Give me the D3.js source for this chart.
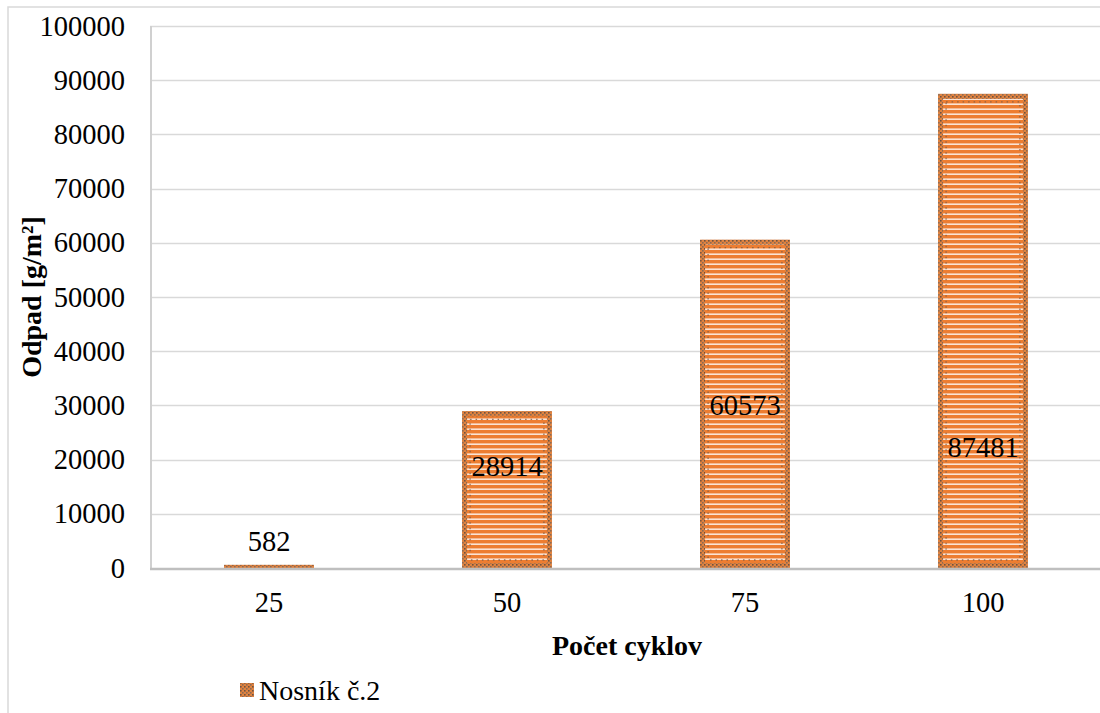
<!DOCTYPE html>
<html>
<head>
<meta charset="utf-8">
<script src="https://cdn.jsdelivr.net/npm/d3@7"></script>
<style>
  html, body { margin: 0; padding: 0; background: #fff; }
  svg { display: block; }
  svg text { font-family: "Liberation Serif", Tinos, "Times New Roman", "DejaVu Serif", serif !important; fill: #000; }
</style>
</head>
<body>
<svg id="chart" width="1100" height="713"></svg>
<script>
// Chart data
const categories = ["25", "50", "75", "100"];
const values = [582, 28914, 60573, 87481];
const yTicks = [0, 10000, 20000, 30000, 40000, 50000, 60000, 70000, 80000, 90000, 100000];
const seriesName = "Nosník č.2";
const xTitle = "Počet cyklov";
const yTitle = "Odpad [g/m²]";

const W = 1100, H = 713;
const plot = { left: 150, right: 1102, top: 26, bottom: 568 };
const svg = d3.select("#chart");
const FONT = "'Liberation Serif', Tinos, 'Times New Roman', 'DejaVu Serif', serif";

// Patterns: striped orange fill and dotted border texture
const defs = svg.append("defs");
const stripes = defs.append("pattern")
  .attr("id", "stripes").attr("patternUnits", "userSpaceOnUse")
  .attr("width", 8).attr("height", 5);
stripes.append("rect").attr("width", 8).attr("height", 5).attr("fill", "#ED7D31");
stripes.append("rect").attr("y", 3.4).attr("width", 8).attr("height", 1.6).attr("fill", "#FBE3D3");

const dots = defs.append("pattern")
  .attr("id", "dots").attr("patternUnits", "userSpaceOnUse")
  .attr("width", 4).attr("height", 4);
dots.append("rect").attr("width", 4).attr("height", 4).attr("fill", "#E0823F");
dots.append("rect").attr("x", 0).attr("y", 0).attr("width", 1.6).attr("height", 1.6).attr("fill", "#6E5240");
dots.append("rect").attr("x", 2).attr("y", 2).attr("width", 1.6).attr("height", 1.6).attr("fill", "#8A6A55");

// Outer chart frame
svg.append("rect")
  .attr("x", 8).attr("y", 7).attr("width", W + 20).attr("height", H + 20)
  .attr("fill", "none").attr("stroke", "#D9D9D9").attr("stroke-width", 1.5);

const y = d3.scaleLinear().domain([0, 100000]).range([plot.bottom, plot.top]);
const x = d3.scaleBand().domain(categories).range([plot.left, plot.right]);
const barW = x.bandwidth() / 2.65;

// Gridlines
svg.append("g").selectAll("line").data(yTicks.filter(d => d > 0)).join("line")
  .attr("x1", plot.left).attr("x2", W)
  .attr("y1", d => Math.round(y(d)) + 0.5).attr("y2", d => Math.round(y(d)) + 0.5)
  .attr("stroke", "#D9D9D9").attr("stroke-width", 1.5);

// Left plot edge
svg.append("line")
  .attr("x1", plot.left + 1).attr("x2", plot.left + 1)
  .attr("y1", plot.top).attr("y2", plot.bottom)
  .attr("stroke", "#D0D0D0").attr("stroke-width", 2);

// Y axis labels
const yAxis = d3.axisLeft(y).tickValues(yTicks).tickSize(0).tickPadding(25).tickFormat(d3.format("d"));
const yg = svg.append("g").attr("transform", `translate(${plot.left},0)`).call(yAxis)
  .attr("font-family", FONT);
yg.select(".domain").remove();
yg.selectAll("text").attr("font-size", 28.5).attr("fill", "#000");

// Bars
const bars = svg.append("g");
categories.forEach((c, i) => {
  const cx = x(c) + x.bandwidth() / 2;
  const top = y(values[i]);
  const h = y(0) - top;
  const g = bars.append("g");
  g.append("rect")
    .attr("x", cx - barW / 2).attr("y", top).attr("width", barW).attr("height", h)
    .attr("fill", "url(#stripes)");
  if (h > 12) {
    g.append("rect")
      .attr("x", cx - barW / 2 + 2.5).attr("y", top + 2.5)
      .attr("width", barW - 5).attr("height", h - 5)
      .attr("fill", "none").attr("stroke", "url(#dots)").attr("stroke-width", 5);
    g.append("rect")
      .attr("x", cx - barW / 2 + 8).attr("y", top + 8)
      .attr("width", barW - 16).attr("height", h - 16)
      .attr("fill", "none").attr("stroke", "#7A5A45").attr("stroke-width", 1.3)
      .attr("stroke-dasharray", "1.5,4").attr("opacity", 0.8);
  } else {
    g.append("rect")
      .attr("x", cx - barW / 2).attr("y", top).attr("width", barW).attr("height", h)
      .attr("fill", "url(#dots)");
  }
});

// X axis line
svg.append("line")
  .attr("x1", plot.left).attr("x2", W)
  .attr("y1", plot.bottom + 1).attr("y2", plot.bottom + 1)
  .attr("stroke", "#BFBFBF").attr("stroke-width", 2.5);

// X axis labels
const xAxis = d3.axisBottom(x).tickSize(0).tickPadding(24);
const xg = svg.append("g").attr("transform", `translate(0,${plot.bottom})`).call(xAxis)
  .attr("font-family", FONT);
xg.select(".domain").remove();
xg.selectAll("text").attr("font-size", 28.5).attr("fill", "#000");

// Value labels (manually placed heights, in data units)
const labelLevels = [4980, 18800, 29900, 22300];
svg.append("g").selectAll("text").data(values).join("text")
  .attr("x", (d, i) => x(categories[i]) + x.bandwidth() / 2)
  .attr("y", (d, i) => y(labelLevels[i]))
  .attr("text-anchor", "middle").attr("dominant-baseline", "central")
  .attr("font-size", 28.5)
  .text(d => d);

// Axis titles
svg.append("text")
  .attr("x", (plot.left + plot.right) / 2 + 1).attr("y", 645)
  .attr("text-anchor", "middle").attr("dominant-baseline", "central")
  .attr("font-size", 28).attr("font-weight", "bold")
  .text(xTitle);

svg.append("text")
  .attr("transform", `translate(31,${(plot.top + plot.bottom) / 2}) rotate(-90)`)
  .attr("text-anchor", "middle").attr("dominant-baseline", "central")
  .attr("font-size", 28).attr("font-weight", "bold")
  .text(yTitle);

// Legend
const lg = svg.append("g").attr("transform", "translate(240,690)");
lg.append("rect").attr("x", 0).attr("y", -7).attr("width", 14).attr("height", 14)
  .attr("fill", "url(#dots)");
lg.append("text").attr("x", 19).attr("y", 0)
  .attr("dominant-baseline", "central").attr("font-size", 28)
  .text(seriesName);
</script>
</body>
</html>
